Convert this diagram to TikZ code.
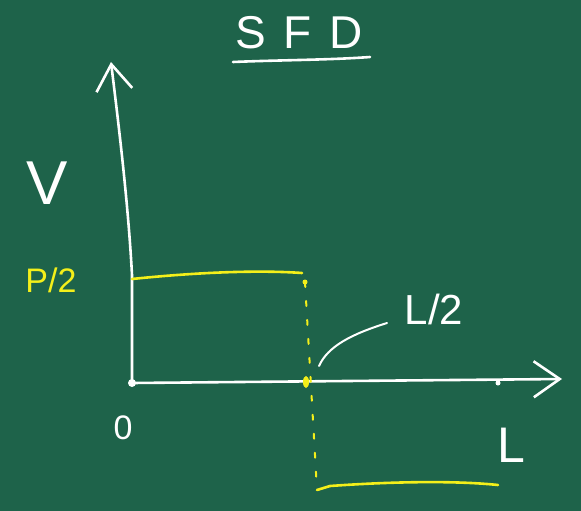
\documentclass[tikz,border=0pt]{standalone}
\usepackage{fontspec}
\setmainfont{Liberation Sans}
\usetikzlibrary{arrows.meta}
\definecolor{board}{HTML}{1E634A}
\definecolor{chalk}{HTML}{FFFFFF}
\definecolor{chalkyellow}{HTML}{F4EF1A}

\begin{document}
\begin{tikzpicture}[
    x=1pt, y=-1pt,
    chalkline/.style={draw=chalk, line width=2.6pt, line cap=round, line join=round},
    axis/.style={chalkline, -{Straight Barb[length=26pt,width=36pt]}},
    shear/.style={draw=chalkyellow, line width=2.6pt, line cap=round},
    lbl/.style={text=chalk, inner sep=0pt}
]
    \fill[board] (0,0) rectangle (581,511);

    % title
    \node[lbl, font=\fontsize{46}{50}\selectfont\addfontfeature{LetterSpace=38}] (title) at (299,33) {SFD};
    \draw[chalkline] (233,62) .. controls (280,60) and (330,60) .. (370,57);

    % axes
    \coordinate (O) at (132,383);
    \coordinate (ytip) at (111,62);
    \coordinate (xtip) at (562,379);
    \draw[axis] (O) -- (132,275) .. controls (128,200) and (118,120) .. (ytip);
    \draw[axis] (O) -- (xtip);
    \fill[chalk] (O) circle (4);
    \fill[chalk] (498,383) circle (2.5);

    \node[lbl, font=\fontsize{62}{64}\selectfont] (vlabel) at (47,183) {V};
    \node[lbl, font=\fontsize{34}{36}\selectfont] (zero) at (123,428) {0};
    \node[lbl, font=\fontsize{50}{52}\selectfont] (llabel) at (511,445) {L};
    \node[lbl, text=chalkyellow, font=\fontsize{34}{36}\selectfont] (pload) at (51,280) {P/2};
    \node[lbl, font=\fontsize{42}{44}\selectfont] (halfspan) at (434,309) {L/2};

    % shear force
    \coordinate (ptop) at (305,282);
    \coordinate (mid) at (306,382);
    \coordinate (pbot) at (317,490);
    \draw[shear] (132,279) .. controls (200,272) and (260,270) .. (302,273);
    \draw[shear, line width=2pt, dash pattern=on 5pt off 14pt] (ptop) -- (pbot);
    \fill[chalkyellow] (ptop) circle (2.5);
    \fill[chalkyellow] (mid) ellipse (3 and 6);
    \draw[shear] (pbot) -- (330,486) .. controls (400,481) and (460,481) .. (498,485);

    % pointer to L/2
    \coordinate (lead) at (387,323);
    \draw[chalkline, line width=2pt] (319,366) .. controls (328,346) and (352,334) .. (lead);
\end{tikzpicture}
\end{document}
